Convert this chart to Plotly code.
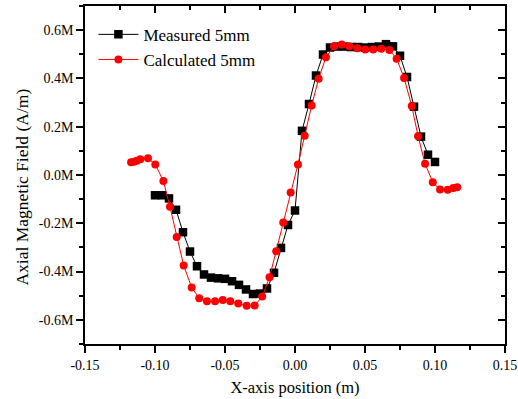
import plotly.graph_objects as go

# Measured 5mm (black squares): x in m, field in MA/m
meas_x = [-0.100, -0.095, -0.090, -0.085, -0.080, -0.075, -0.070, -0.065, -0.060, -0.055,
          -0.050, -0.045, -0.040, -0.035, -0.030, -0.025, -0.020, -0.015, -0.010, -0.005,
          0.000, 0.005, 0.010, 0.015, 0.020, 0.025, 0.030, 0.035, 0.040, 0.045,
          0.050, 0.055, 0.060, 0.065, 0.070, 0.075, 0.080, 0.085, 0.090, 0.095, 0.100]
meas_y = [-0.084, -0.084, -0.097, -0.144, -0.237, -0.317, -0.378, -0.412, -0.425, -0.428,
          -0.430, -0.440, -0.455, -0.474, -0.493, -0.491, -0.470, -0.405, -0.302, -0.207,
          -0.147, 0.183, 0.294, 0.412, 0.499, 0.528, 0.532, 0.532, 0.530, 0.530,
          0.528, 0.530, 0.532, 0.542, 0.533, 0.494, 0.406, 0.283, 0.159, 0.084, 0.054]

# Calculated 5mm (red circles)
calc_x = [-0.1171, -0.1150, -0.1130, -0.1105, -0.1050, -0.0998, -0.0940, -0.0893, -0.0845, -0.0795,
          -0.0738, -0.0684, -0.0629, -0.0571, -0.0516, -0.0462, -0.0405, -0.0345, -0.0288, -0.0234,
          -0.0182, -0.0134, -0.0084, -0.0031, 0.0021, 0.0069, 0.0119, 0.0169, 0.0221, 0.0279,
          0.0334, 0.0388, 0.0445, 0.0502, 0.0559, 0.0616, 0.0674, 0.0726, 0.0779, 0.0834,
          0.0879, 0.0929, 0.0984, 0.1036, 0.1091, 0.1131, 0.1159]
calc_y = [0.053, 0.055, 0.059, 0.065, 0.069, 0.044, -0.025, -0.132, -0.257, -0.375,
          -0.466, -0.510, -0.523, -0.523, -0.518, -0.523, -0.532, -0.542, -0.541, -0.503,
          -0.424, -0.316, -0.197, -0.072, 0.044, 0.163, 0.288, 0.399, 0.488, 0.533,
          0.541, 0.533, 0.525, 0.520, 0.520, 0.523, 0.518, 0.482, 0.402, 0.286,
          0.161, 0.047, -0.030, -0.060, -0.061, -0.054, -0.051]

x_tickvals = [-0.15, -0.10, -0.05, 0.00, 0.05, 0.10, 0.15]
x_ticktext = ["-0.15", "-0.10", "-0.05", "0.00", "0.05", "0.10", "0.15"]
y_tickvals = [-0.6, -0.4, -0.2, 0.0, 0.2, 0.4, 0.6]
y_ticktext = ["-0.6M", "-0.4M", "-0.2M", "0.0M", "0.2M", "0.4M", "0.6M"]

FONT = "Liberation Serif"
X_RANGE = [-0.15, 0.15]
Y_RANGE = [-0.7, 0.7]

fig = go.Figure()
fig.add_trace(go.Scatter(
    x=meas_x, y=meas_y, mode="lines+markers", name="Measured 5mm",
    line=dict(color="black", width=1),
    marker=dict(symbol="square", size=8.5, color="black"),
))
fig.add_trace(go.Scatter(
    x=calc_x, y=calc_y, mode="lines+markers", name="Calculated 5mm",
    line=dict(color="red", width=1),
    marker=dict(symbol="circle", size=8, color="red"),
))
# invisible trace to activate the mirror axes (top/right, inside ticks)
fig.add_trace(go.Scatter(x=[None], y=[None], xaxis="x2", yaxis="y2",
                         showlegend=False, hoverinfo="skip"))

fig.update_layout(
    width=518, height=399,
    margin=dict(l=85, r=13, t=6, b=55, autoexpand=False),
    paper_bgcolor="white", plot_bgcolor="white",
    font=dict(family=FONT, color="black", size=14),
    showlegend=True,
    legend=dict(x=0.02, y=0.968, xanchor="left", yanchor="top",
                bgcolor="rgba(0,0,0,0)", font=dict(family=FONT, size=17),
                itemwidth=40, tracegroupgap=0),
    xaxis=dict(
        range=X_RANGE, tickmode="array", tickvals=x_tickvals, ticktext=x_ticktext,
        showgrid=False, zeroline=False, showline=True, linecolor="black", linewidth=1.5,
        ticks="outside", ticklen=7, tickwidth=1.5, tickcolor="black",
        minor=dict(tickmode="linear", tick0=-0.15, dtick=0.025, ticks="outside",
                   ticklen=4, tickwidth=1.5, tickcolor="black", showgrid=False),
        tickfont=dict(size=14), automargin=False,
        title=dict(text="X-axis position (m)", font=dict(size=16.5), standoff=10),
    ),
    yaxis=dict(
        range=Y_RANGE, tickmode="array", tickvals=y_tickvals, ticktext=y_ticktext,
        showgrid=False, zeroline=False, showline=True, linecolor="black", linewidth=1.5,
        ticks="outside", ticklen=7, tickwidth=1.5, tickcolor="black",
        minor=dict(tickmode="linear", tick0=-0.7, dtick=0.1, ticks="outside",
                   ticklen=4, tickwidth=1.5, tickcolor="black", showgrid=False),
        tickfont=dict(size=14), automargin=False,
    ),
    xaxis2=dict(
        range=X_RANGE, overlaying="x", side="top", anchor="y2", automargin=False,
        showticklabels=False, showgrid=False, zeroline=False,
        showline=True, linecolor="black", linewidth=1.5,
        tickmode="linear", tick0=-0.15, dtick=0.05, ticks="inside", ticklen=7,
        tickwidth=1.5, tickcolor="black",
        minor=dict(tickmode="linear", tick0=-0.15, dtick=0.025, ticks="inside",
                   ticklen=4, tickwidth=1.5, tickcolor="black", showgrid=False),
    ),
    yaxis2=dict(
        range=Y_RANGE, overlaying="y", side="right", anchor="x2", automargin=False,
        showticklabels=False, showgrid=False, zeroline=False,
        showline=True, linecolor="black", linewidth=1.5,
        tickmode="linear", tick0=-0.6, dtick=0.2, ticks="inside", ticklen=7,
        tickwidth=1.5, tickcolor="black",
        minor=dict(tickmode="linear", tick0=-0.7, dtick=0.1, ticks="inside",
                   ticklen=4, tickwidth=1.5, tickcolor="black", showgrid=False),
    ),
    annotations=[dict(
        text="Axial Magnetic Field (A/m)", textangle=-90,
        xref="paper", yref="paper", x=-0.151, y=0.4645,
        xanchor="center", yanchor="middle", showarrow=False,
        font=dict(family=FONT, size=17.5, color="black"),
    )],
)

fig.write_html("out.html", config={"displayModeBar": False},
               post_script="document.body.style.margin='0px';document.body.style.overflow='hidden';")
